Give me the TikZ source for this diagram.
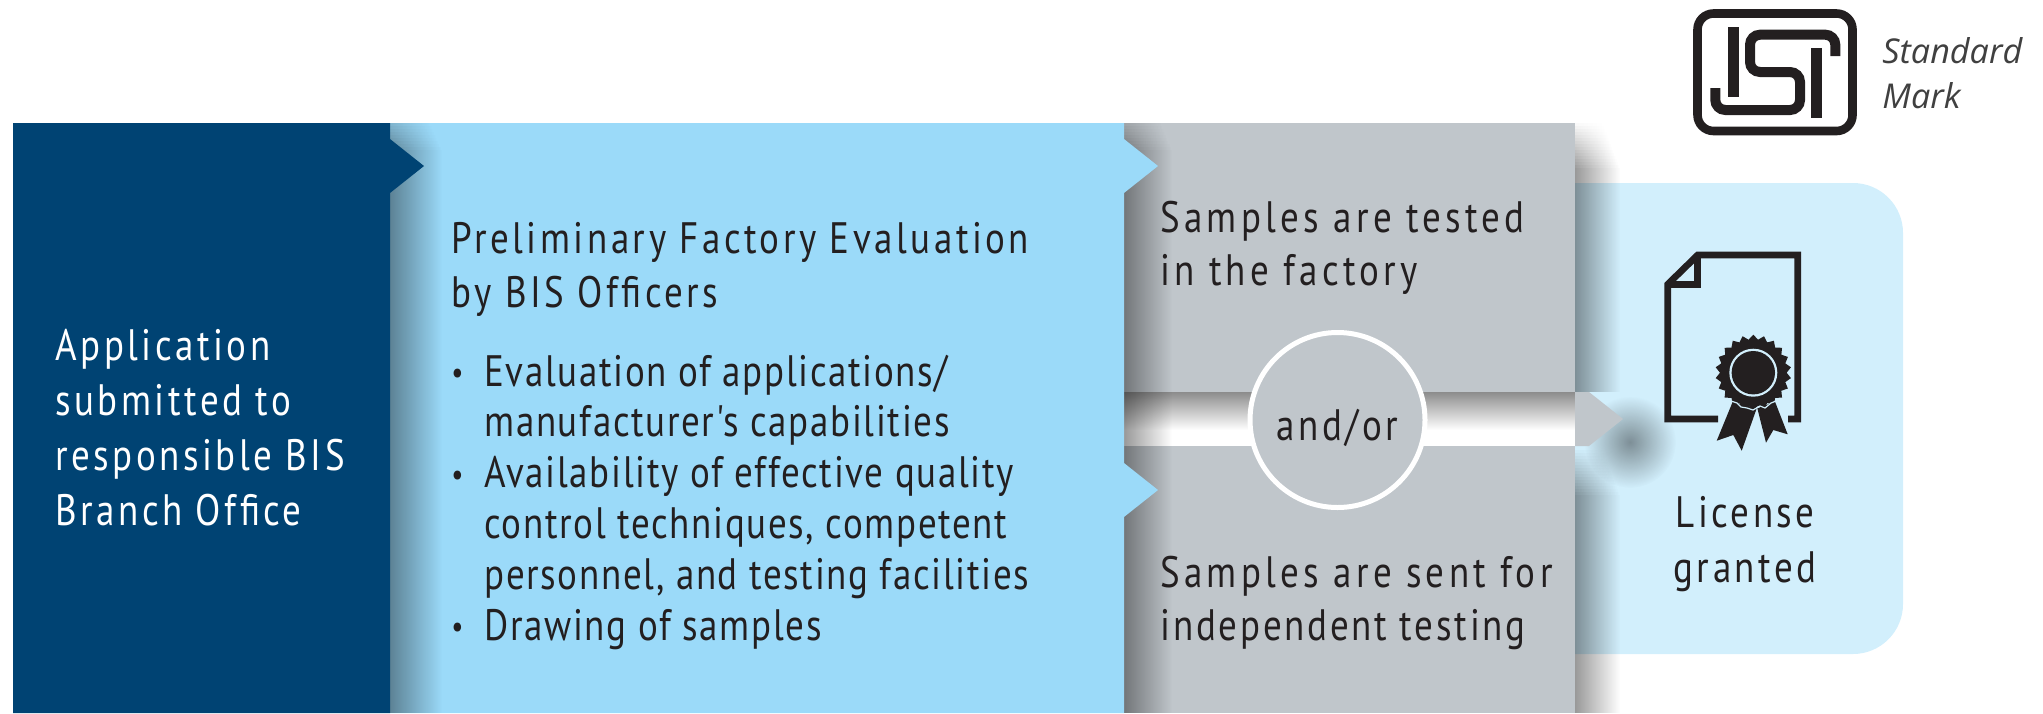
\documentclass[tikz,border=0pt]{standalone}
\usepackage{fontspec}
\setmainfont[LetterSpace=8,FakeStretch=0.84]{PT Sans}
\newfontfamily\samplefont[LetterSpace=9.8,FakeStretch=0.84]{PT Sans}
\newfontfamily\testingfont[LetterSpace=6.3,FakeStretch=0.84]{PT Sans}
\newfontfamily\listfont[LetterSpace=3.8,FakeStretch=0.84]{PT Sans}
\newfontfamily\markfont{Open Sans}
\usetikzlibrary{fadings,shapes.geometric}
\definecolor{darkpanel}{HTML}{004373}
\definecolor{bluepanel}{HTML}{9BDAF9}
\definecolor{greypanel}{HTML}{C0C6CB}
\definecolor{licensepanel}{HTML}{D2EFFC}
\definecolor{inkblack}{HTML}{231F20}
\tikzfading[name=shadowside, left color=transparent!60, right color=transparent!100]
\tikzfading[name=shadowtop, top color=transparent!55, bottom color=transparent!100]
\tikzfading[name=shadowround, inner color=transparent!60, outer color=transparent!100]
\newcommand{\bul}{\llap{\raisebox{1.3pt}{\fontsize{16}{16}\selectfont\textbullet}\hspace{10.5pt}}}
% x, top of full strength, bottom, width, rows that fade out above the top
\newcommand{\castshadow}[5]{
    \fill[black, path fading=shadowside] (#1,#2) rectangle (#1+#4,#3);
    \foreach \k [evaluate=\k as \rowop using 1-\k/16] in {1,...,#5}{
        \fill[black, fill opacity=\rowop, path fading=shadowside]
            (#1,#2-3*\k) rectangle (#1+#4*\rowop*0.4+#4*0.6,#2-3*\k+3);
    }
}

\begin{document}
\begin{tikzpicture}[x=0.5pt,y=-0.5pt,
            every node/.style = {inner sep=0pt, text=inkblack},
            steptext/.style = {anchor=base west, align=left, font=\fontsize{22}{27}\selectfont},
            listtext/.style = {steptext, font=\listfont\fontsize{22}{25.4}\selectfont},
            sampletext/.style = {steptext, font=\samplefont\fontsize{22}{26.5}\selectfont},
            logoline/.style = {draw=inkblack, line width=5pt, line join=round}
            ]
            \useasboundingbox (0,0) rectangle (2043,713);
            % licence panel and what falls on it
            \fill[licensepanel, rounded corners=25pt] (1500,183) rectangle (1903,654);
            \castshadow{1575}{168}{392}{45}{15}
            \castshadow{1575}{495}{713}{45}{15}
            \fill[black, path fading=shadowround] (1630,442) circle (46);

            % testing column
            \fill[white] (1124,392) rectangle (1575,446);
            \fill[black, path fading=shadowtop] (1124,392) rectangle (1575,430);
            \fill[greypanel] (1124,123) rectangle (1575,392);
            \fill[greypanel] (1124,446) rectangle (1575,713);
            \fill[greypanel] (1575,392) -- (1589,392) -- (1623,419) -- (1589,446) -- (1575,446) -- cycle;
            \castshadow{1124}{150}{713}{48}{9}

            % evaluation column
            \fill[bluepanel] (390,123) -- (1124,123) -- (1124,139) -- (1158,166) -- (1124,193)
                -- (1124,463) -- (1158,490) -- (1124,517) -- (1124,713) -- (390,713) -- cycle;
            \castshadow{390}{150}{713}{52}{9}

            % application column
            \fill[darkpanel] (13,123) -- (390,123) -- (390,139) -- (424,166) -- (390,193) -- (390,713) -- (13,713) -- cycle;

            \node[steptext, text=white, font=\fontsize{22}{27.35}\selectfont] (application) at (55,525)
                {Application\\submitted to\\responsible BIS\\Branch Office};
            \node[steptext] (evaluation) at (451,307) {Preliminary Factory Evaluation\\by BIS Officers};
            \node[listtext] (checks) at (484,640) {\bul Evaluation of applications/\\manufacturer's capabilities\\
                \bul Availability of effective quality\\control techniques, competent\\
                personnel, and testing facilities\\\bul Drawing of samples};
            \node[sampletext] (factory) at (1160,285) {Samples are tested\\in the factory};
            \node[sampletext] (independent) at (1160,640) {Samples are sent for\\\testingfont independent testing};
            \node[circle, draw=white, line width=2.5pt, fill=greypanel, minimum size=87.5pt, outer sep=0pt] (andor) at (1337.5,420) {};
            \node[anchor=base, font=\fontsize{22}{27}\selectfont] (andorlabel) at (1337.5,440) {and/or};
            \node[steptext, anchor=base, align=center, font=\fontsize{22}{27.35}\selectfont] (license) at (1745,582) {License\\granted};

            % certificate
            \draw[inkblack, line width=3.35pt, line join=miter] (1718,419) -- (1667.7,419) -- (1667.7,284.3) -- (1697.7,255)
                -- (1797.7,255) -- (1797.7,419) -- (1788,419);
            \draw[inkblack, line width=3.35pt] (1697.7,256) -- (1697.7,284.3) -- (1667.7,284.3);
            \fill[inkblack] (1732.7,401.7) -- (1716.7,440.7) -- (1733.3,435) -- (1741.7,450.7) -- (1756.7,408.3) -- cycle;
            \fill[inkblack] (1757.3,408.3) -- (1766,442.7) -- (1773.3,430) -- (1787.7,434.3) -- (1775,401.7) -- cycle;
            \node[star, star points=22, star point ratio=1.14, fill=inkblack, minimum size=38pt] (rosette) at (1753.3,372.7) {};
            \draw[licensepanel, line width=0.6pt] (1731,401) -- (1737,403) -- (1741,407) -- (1747,408) -- (1753,410)
                -- (1760,406) -- (1765,408) -- (1771,403) -- (1776,401);
            \fill[licensepanel] (rosette.center) circle (24);
            \fill[inkblack] (rosette.center) circle (21.7);

            % standard mark
            \draw[logoline, line width=4.3pt, rounded corners=8pt] (1697.5,13.5) rectangle (1852.5,131);
            \draw[logoline, rounded corners=5pt, line join=miter] (1835.3,56) -- (1835.3,34.7) -- (1750,34.7) -- (1750,72) -- (1800,72)
                -- (1800,110) -- (1715.3,110) -- (1715.3,88);
            \fill[inkblack] (1728,27) rectangle (1739,97);
            \fill[inkblack] (1811,48) rectangle (1822,118);
            \node[anchor=base west, align=left, text=black!75, font=\markfont\itshape\fontsize{17.1}{22.5}\selectfont] (standard) at (1882,108)
                {Standard\\Mark};
        \end{tikzpicture}
\end{document}
